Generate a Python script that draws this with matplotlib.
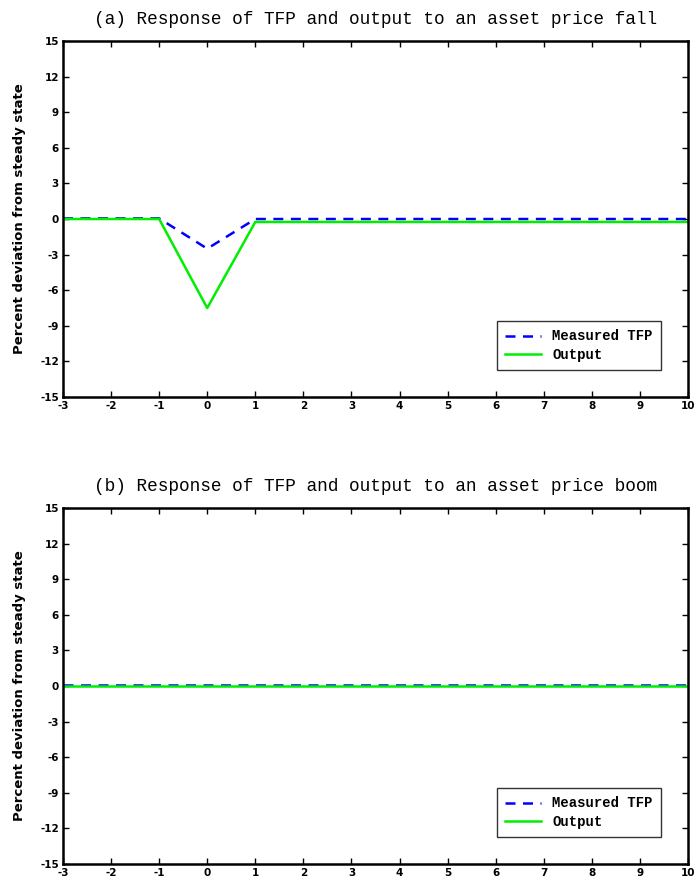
import matplotlib
matplotlib.use("Agg")
import matplotlib.pyplot as plt
import numpy as np

plt.rcParams["axes.unicode_minus"] = False

# periodos y respuestas (porcentaje de desviacion)
periods = [-3, -2, -1, 0, 1, 2, 3, 4, 5, 6, 7, 8, 9, 10]
tfp_fall = [0.05, 0.05, 0.05, -2.5, 0.0, 0.0, 0.0, 0.0, 0.0, 0.0, 0.0, 0.0, 0.0, 0.0]
out_fall = [0.0, 0.0, 0.0, -7.5, -0.25, -0.25, -0.25, -0.25, -0.25, -0.25, -0.25, -0.25, -0.25, -0.25]
tfp_boom = [0.08] * 14
out_boom = [0.0] * 14
yticks = [-15, -12, -9, -6, -3, 0, 3, 6, 9, 12, 15]
titles = ["(a) Response of TFP and output to an asset price fall",
          "(b) Response of TFP and output to an asset price boom"]

fig = plt.figure(figsize=(6.96, 8.84), dpi=100)
axa = fig.add_axes([0.0905, 0.5509, 0.898, 0.4027])
axb = fig.add_axes([0.0905, 0.0226, 0.898, 0.4027])

for ax, tfp, out, title in [(axa, tfp_fall, out_fall, titles[0]), (axb, tfp_boom, out_boom, titles[1])]:
    ax.plot(periods, tfp, color="#0000ff", linestyle=(0, (4, 3)), linewidth=1.8, label="Measured TFP")
    ax.plot(periods, out, color="#00ee00", linewidth=1.8, label="Output")
    ax.set_xlim(-3, 10)
    ax.set_ylim(-15, 15)
    ax.set_xticks(periods)
    ax.set_yticks(yticks)
    ax.tick_params(direction="in", top=True, right=True, length=4, width=1,
                   labelsize=7.5, pad=3)
    for lab in ax.get_xticklabels() + ax.get_yticklabels():
        lab.set_fontweight("bold")
    for s in ax.spines.values():
        s.set_linewidth(1.8)
    ax.set_title(title, family="Liberation Mono", fontsize=12.8, pad=12)
    ax.set_ylabel("Percent deviation from steady state", fontsize=9.5, fontweight="bold", labelpad=10)
    leg = ax.legend(loc="lower right", bbox_to_anchor=(0.957, 0.076), borderaxespad=0, fancybox=False,
                    prop={"family": "Liberation Mono", "weight": "bold", "size": 10},
                    handlelength=2.6, borderpad=0.6, labelspacing=0.3)
    leg.get_frame().set_edgecolor("black")
    leg.get_frame().set_linewidth(1.0)

fig.savefig("out.png", dpi=100)
